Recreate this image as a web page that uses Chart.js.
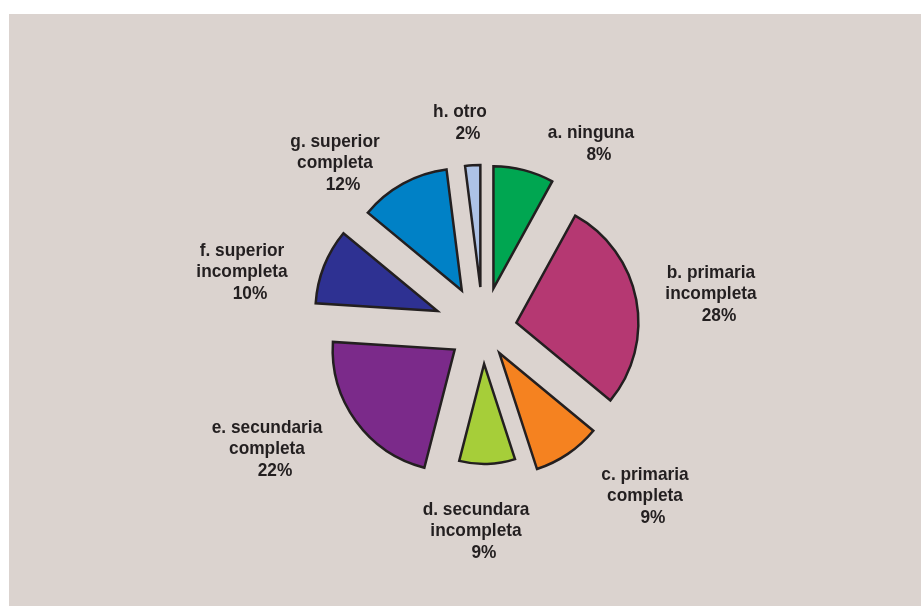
<!DOCTYPE html>
<html>
<head>
<meta charset="utf-8">
<script src="https://cdn.jsdelivr.net/npm/chart.js@4.4.0/dist/chart.umd.min.js"></script>
<style>
  html, body { margin: 0; padding: 0; background: #ffffff; }
  #wrap { position: relative; width: 921px; height: 606px; overflow: hidden; }
  #panel { position: absolute; left: 9px; top: 14px; right: 0; bottom: 0; background: #dbd3cf; }
  #pie { position: absolute; left: 0; top: 0; }
</style>
</head>
<body>
<div id="wrap">
  <div id="panel"></div>
  <canvas id="pie" width="921" height="606"></canvas>
</div>
<script>
// categories (label lines) and their shares in percent
const categories = [
    ['a. ninguna'],
    ['b. primaria', 'incompleta'],
    ['c. primaria', 'completa'],
    ['d. secundara', 'incompleta'],
    ['e. secundaria', 'completa'],
    ['f. superior', 'incompleta'],
    ['g. superior', 'completa'],
    ['h. otro']
];
const shares = [8, 28, 9, 9, 22, 10, 12, 2];

// styling
const sliceColors = ['#00a651', '#b53872', '#f58220', '#a6ce39', '#7b2a8a', '#2e3192', '#0081c6', '#adc2e6'];
const edgeColor = '#231f20';
const pieRadius = 122;
const explode = [42, 34, 29, 35, 35, 49, 44, 42];          // px each slice is pulled out
const radiusScale = [1, 1, 1, 0.82, 1, 1, 1, 1];
// label block centre, relative to pie centre
const labelOffsets = [[108, -187], [228, -37], [162, 165], [-7, 200], [-216, 118], [-241, -59], [-148, -168], [-23, -208]];
const labelFont = 'bold 19px "Liberation Sans", Arial, sans-serif';
const labelSqueeze = 0.91;
const lineHeight = 21.5;
const pctShift = 8;

function pieCentre(chart) {
    const a = chart.chartArea;
    return { x: (a.left + a.right) / 2, y: (a.top + a.bottom) / 2 };
}

// explode slices radially (done here instead of the "offset" option,
// which also narrows small slices)
const explodePlugin = {
    id: 'explodeSlices',
    afterDatasetsUpdate(chart) {
        const c = pieCentre(chart);
        const meta = chart.getDatasetMeta(0);
        meta.data.forEach((arc, i) => {
            const mid = (arc.startAngle + arc.endAngle) / 2;
            arc.x = c.x + Math.cos(mid) * explode[i];
            arc.y = c.y + Math.sin(mid) * explode[i];
            arc.outerRadius = pieRadius * radiusScale[i];
        });
    }
};

const labelPlugin = {
    id: 'sliceLabels',
    afterDatasetsDraw(chart) {
        const ctx = chart.ctx;
        const c = pieCentre(chart);
        ctx.save();
        ctx.font = labelFont;
        ctx.fillStyle = edgeColor;
        ctx.textAlign = 'center';
        ctx.textBaseline = 'alphabetic';
        shares.forEach((v, i) => {
            const lines = categories[i].concat(v + '%');
            const cx = c.x + labelOffsets[i][0];
            const cy = c.y + labelOffsets[i][1];
            const first = cy - (lines.length - 1) * lineHeight / 2 + 7;
            lines.forEach((t, j) => {
                const shift = j === lines.length - 1 ? pctShift : 0;
                ctx.save();
                ctx.translate(cx + shift, first + j * lineHeight);
                ctx.scale(labelSqueeze, 1);
                ctx.fillText(t, 0, 0);
                ctx.restore();
            });
        });
        ctx.restore();
    }
};

const ctx = document.getElementById('pie').getContext('2d');
new Chart(ctx, {
    type: 'pie',
    data: {
        labels: categories.map(c => c.join(' ')),
        datasets: [{
            data: shares,
            backgroundColor: sliceColors,
            borderColor: edgeColor,
            borderWidth: 2.5,
            borderJoinStyle: 'miter',
            radius: pieRadius
        }]
    },
    options: {
        responsive: false,
        animation: false,
        rotation: 0,
        layout: { padding: { left: 45, top: 52, right: 0, bottom: 0 } },
        plugins: {
            legend: { display: false },
            tooltip: { enabled: false }
        }
    },
    plugins: [explodePlugin, labelPlugin]
});
</script>
</body>
</html>
